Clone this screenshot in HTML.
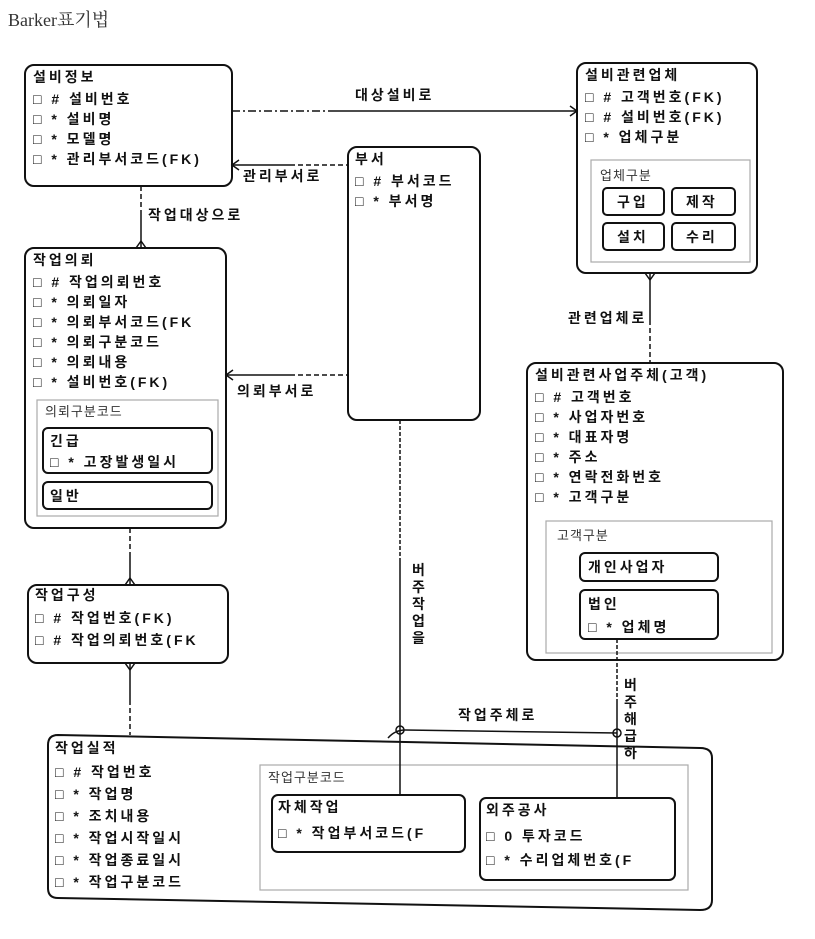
<!DOCTYPE html>
<html><head><meta charset="utf-8"><style>
body{margin:0;background:#fff;width:815px;height:939px;overflow:hidden}
svg{display:block}
text{font-family:"Liberation Sans","Noto Sans CJK KR",sans-serif;fill:#111}
.b{font-weight:bold;font-size:14px;letter-spacing:3px}
.n{font-size:13px;letter-spacing:1px;fill:#333}
.t{font-family:"Liberation Serif","Noto Serif CJK SC",serif;font-size:18px;fill:#333}
</style></head><body>
<svg width="815" height="939" viewBox="0 0 815 939" xmlns="http://www.w3.org/2000/svg">
<text class="t" x="8" y="26">Barker표기법</text>
<g fill="none" stroke="#111" stroke-width="2">
<rect x="25" y="65" width="207" height="121" rx="9"/>
<rect x="348" y="147" width="132" height="273" rx="9"/>
<rect x="577" y="63" width="180" height="210" rx="9"/>
<rect x="25" y="248" width="201" height="280" rx="9"/>
<rect x="527" y="363" width="256" height="297" rx="9"/>
<rect x="28" y="585" width="200" height="78" rx="9"/>
<path d="M58 735 L700 748 Q712 748 712 758 L712 900 Q712 910 700 910 L58 898 Q48 898 48 888 L48 745 Q48 735 58 735Z"/>
<rect x="43" y="428" width="169" height="45" rx="5"/>
<rect x="43" y="482" width="169" height="27" rx="5"/>
<rect x="603" y="188" width="61" height="27" rx="4"/>
<rect x="672" y="188" width="63" height="27" rx="4"/>
<rect x="603" y="223" width="61" height="27" rx="4"/>
<rect x="672" y="223" width="63" height="27" rx="4"/>
<rect x="580" y="553" width="138" height="28" rx="5"/>
<rect x="580" y="590" width="138" height="49" rx="5"/>
<rect x="272" y="795" width="193" height="57" rx="6"/>
<rect x="480" y="798" width="195" height="82" rx="6"/>
</g>
<g fill="none" stroke="#aaa" stroke-width="1.2">
<rect x="37" y="400" width="181" height="116"/>
<rect x="591" y="160" width="159" height="102"/>
<rect x="546" y="521" width="226" height="132"/>
<rect x="260" y="765" width="428" height="125"/>
</g>
<g fill="none" stroke="#111" stroke-width="1.5">
<path d="M232 111 H330" stroke-dasharray="8 3 2 3"/><path d="M330 111 H577"/>
<path d="M232 165 H290"/><path d="M290 165 H348" stroke-dasharray="5 3"/>
<path d="M141 186 V215" stroke-dasharray="5 3"/><path d="M141 215 V248"/>
<path d="M226 375 H290"/><path d="M290 375 H348" stroke-dasharray="5 3"/>
<path d="M130 528 V555" stroke-dasharray="5 3"/><path d="M130 555 V585"/>
<path d="M130 663 V700"/><path d="M130 700 V735" stroke-dasharray="5 3"/>
<path d="M400 420 V560" stroke-dasharray="4 2"/><path d="M400 560 V795"/>
<path d="M650 273 V320"/><path d="M650 320 V363" stroke-dasharray="5 3"/>
<path d="M617 639 V700" stroke-dasharray="4 2"/><path d="M617 700 V798"/>
<path d="M388 738 Q395 730 405 730 L617 733"/>
<circle cx="400" cy="730" r="4"/><circle cx="617" cy="733" r="4"/>
<path d="M570 106 L577 111 L570 116"/><path d="M239 160 L232 165 L239 170"/><path d="M233 370 L226 375 L233 380"/>
<path d="M136 248 L141 241 L146 248"/><path d="M645 273 L650 280 L655 273"/>
<path d="M125 585 L130 578 L135 585"/><path d="M125 663 L130 670 L135 663"/>
</g>
<g>
<text class="b" x="33" y="82">설비정보</text>
<text class="b" x="33" y="104">□ # 설비번호</text>
<text class="b" x="33" y="124">□ * 설비명</text>
<text class="b" x="33" y="144">□ * 모델명</text>
<text class="b" x="33" y="164">□ * 관리부서코드(FK)</text>
<text class="b" x="355" y="164">부서</text>
<text class="b" x="355" y="186">□ # 부서코드</text>
<text class="b" x="355" y="206">□ * 부서명</text>
<text class="b" x="585" y="80">설비관련업체</text>
<text class="b" x="585" y="102">□ # 고객번호(FK)</text>
<text class="b" x="585" y="122">□ # 설비번호(FK)</text>
<text class="b" x="585" y="142">□ * 업체구분</text>
<text class="n" x="600" y="180">업체구분</text>
<text class="b" x="617" y="207">구입</text><text class="b" x="686" y="207">제작</text>
<text class="b" x="617" y="242">설치</text><text class="b" x="686" y="242">수리</text>
<text class="b" x="33" y="265">작업의뢰</text>
<text class="b" x="33" y="287">□ # 작업의뢰번호</text>
<text class="b" x="33" y="307">□ * 의뢰일자</text>
<text class="b" x="33" y="327">□ * 의뢰부서코드(FK</text>
<text class="b" x="33" y="347">□ * 의뢰구분코드</text>
<text class="b" x="33" y="367">□ * 의뢰내용</text>
<text class="b" x="33" y="387">□ * 설비번호(FK)</text>
<text class="n" x="45" y="416">의뢰구분코드</text>
<text class="b" x="50" y="446">긴급</text>
<text class="b" x="50" y="467">□ * 고장발생일시</text>
<text class="b" x="50" y="501">일반</text>
<text class="b" x="535" y="380">설비관련사업주체(고객)</text>
<text class="b" x="535" y="402">□ # 고객번호</text>
<text class="b" x="535" y="422">□ * 사업자번호</text>
<text class="b" x="535" y="442">□ * 대표자명</text>
<text class="b" x="535" y="462">□ * 주소</text>
<text class="b" x="535" y="482">□ * 연락전화번호</text>
<text class="b" x="535" y="502">□ * 고객구분</text>
<text class="n" x="557" y="540">고객구분</text>
<text class="b" x="588" y="572">개인사업자</text>
<text class="b" x="588" y="609">법인</text>
<text class="b" x="588" y="632">□ * 업체명</text>
<text class="b" x="35" y="600">작업구성</text>
<text class="b" x="35" y="623">□ # 작업번호(FK)</text>
<text class="b" x="35" y="645">□ # 작업의뢰번호(FK</text>
<text class="b" x="55" y="753">작업실적</text>
<text class="b" x="55" y="777">□ # 작업번호</text>
<text class="b" x="55" y="799">□ * 작업명</text>
<text class="b" x="55" y="821">□ * 조치내용</text>
<text class="b" x="55" y="843">□ * 작업시작일시</text>
<text class="b" x="55" y="865">□ * 작업종료일시</text>
<text class="b" x="55" y="887">□ * 작업구분코드</text>
<text class="n" x="268" y="782">작업구분코드</text>
<text class="b" x="278" y="812">자체작업</text>
<text class="b" x="278" y="838">□ * 작업부서코드(F</text>
<text class="b" x="486" y="815">외주공사</text>
<text class="b" x="486" y="841">□ 0 투자코드</text>
<text class="b" x="486" y="865">□ * 수리업체번호(F</text>
<text class="b" x="355" y="100">대상설비로</text>
<text class="b" x="243" y="181">관리부서로</text>
<text class="b" x="148" y="220">작업대상으로</text>
<text class="b" x="237" y="396">의뢰부서로</text>
<text class="b" x="568" y="323">관련업체로</text>
<text class="b" x="458" y="720">작업주체로</text>
<text class="b" x="412" y="575">버</text><text class="b" x="412" y="592">주</text><text class="b" x="412" y="609">작</text><text class="b" x="412" y="626">업</text><text class="b" x="412" y="643">을</text>
<text class="b" x="624" y="690">버</text><text class="b" x="624" y="707">주</text><text class="b" x="624" y="724">해</text><text class="b" x="624" y="741">급</text><text class="b" x="624" y="758">하</text>
</g>
</svg>
</body></html>
